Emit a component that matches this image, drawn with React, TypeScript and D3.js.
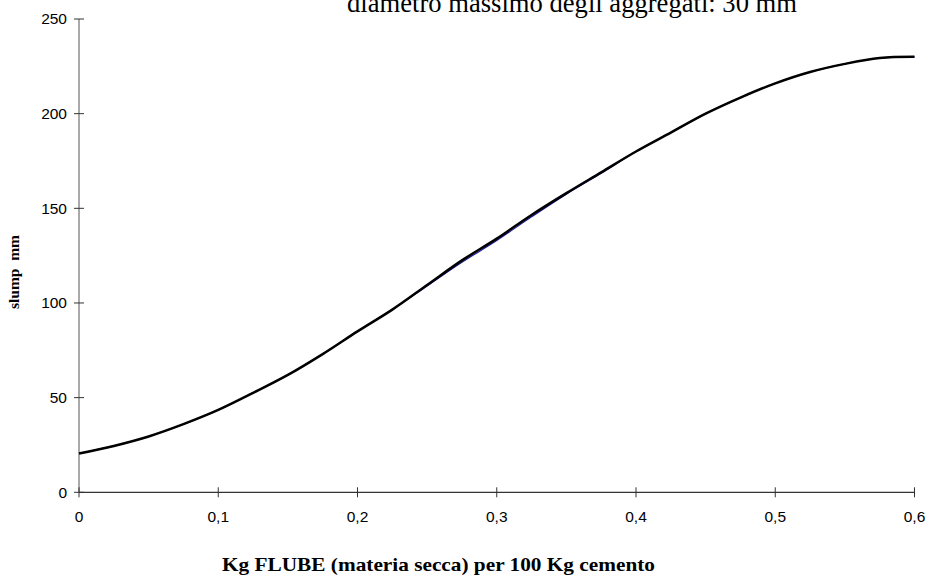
import React from "react";
import * as d3 from "d3";

const xValues = [0, 0.025, 0.05, 0.075, 0.1, 0.125, 0.15, 0.175, 0.2, 0.225, 0.25, 0.275, 0.3, 0.325, 0.35, 0.375, 0.4, 0.425, 0.45, 0.475, 0.5, 0.525, 0.55, 0.575, 0.6];
const slumpValues = [20.5, 24.5, 29.5, 36, 43.5, 52.5, 62, 73, 85, 96.5, 109.5, 122.5, 134, 146.5, 158, 169, 180, 190, 200, 208.5, 216, 222, 226.3, 229.4, 230];
const trendValues = [20.5, 24.5, 29.5, 36, 43.5, 52.5, 62, 73, 85, 96.5, 109, 121.5, 133, 145.5, 157.5, 168.5, 180, 190, 200, 208.5, 216, 222, 226.3, 229.4, 230];
const xTicks = [0, 0.1, 0.2, 0.3, 0.4, 0.5, 0.6];
const yTicks = [0, 50, 100, 150, 200, 250];
const title = "diametro massimo degli aggregati: 30 mm";
const xLabel = "Kg FLUBE (materia secca) per 100 Kg cemento";
const yLabel = "slump  mm";

export default function App() {
  const W = 927, H = 585;
  const x = d3.scaleLinear().domain([0, 0.6]).range([79, 914.5]);
  const y = d3.scaleLinear().domain([0, 250]).range([492.3, 19]);
  const line = d3.line<number>().x((_, i) => x(xValues[i])).y(d => y(d)).curve(d3.curveCatmullRom);
  const fmt = (v: number) => (v === 0 ? "0" : String(v).replace(".", ","));
  return (
    <svg width={W} height={H} style={{ position: "absolute", left: 0, top: 0, background: "#fff" }}>
      <rect width={W} height={H} fill="#fff" />
      <text x={347} y={12} textLength={450} lengthAdjust="spacingAndGlyphs" fontFamily="'Liberation Serif', 'Times New Roman', serif" fontSize={27} fill="#000">{title}</text>
      <line x1={x(0)} x2={x(0)} y1={y(0)} y2={y(250)} stroke="#555" strokeWidth={1} />
      <line x1={x(0)} x2={x(0.6)} y1={y(0)} y2={y(0)} stroke="#000" strokeWidth={1} />
      {yTicks.map(t => (
        <g key={"y" + t}>
          <line x1={x(0) - 5} x2={x(0) + 5} y1={y(t)} y2={y(t)} stroke="#333" />
          <text x={67} y={y(t)} dy="0.35em" textAnchor="end" fontFamily="'Liberation Sans', Arial, sans-serif" fontSize={15.5} fill="#000">{t}</text>
        </g>
      ))}
      {xTicks.map(t => (
        <g key={"x" + t}>
          <line x1={x(t)} x2={x(t)} y1={y(0) - 5} y2={y(0) + 5} stroke="#333" />
          <text x={x(t)} y={522} textAnchor="middle" fontFamily="'Liberation Sans', Arial, sans-serif" fontSize={15.5} fill="#000">{fmt(t)}</text>
        </g>
      ))}
      <path d={line(trendValues) || ""} fill="none" stroke="#1a1aa0" strokeWidth={1.2} />
      <path d={line(slumpValues) || ""} fill="none" stroke="#000" strokeWidth={2.5} strokeLinejoin="round" />
      <text x={438.5} y={571} textAnchor="middle" textLength={433} lengthAdjust="spacingAndGlyphs" fontFamily="'Liberation Serif', 'Times New Roman', serif" fontWeight="bold" fontSize={19} fill="#000">{xLabel}</text>
      <text transform={`translate(19,272) rotate(-90)`} textAnchor="middle" fontFamily="'Liberation Serif', 'Times New Roman', serif" fontWeight="bold" fontSize={15.5} fill="#000" style={{ whiteSpace: "pre" }}>{yLabel}</text>
    </svg>
  );
}
